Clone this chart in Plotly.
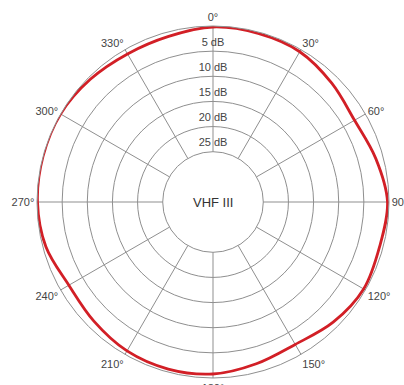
import plotly.graph_objects as go

# Measured directivity (relative level in dB) every 15 degrees
angles = [0, 15, 30, 45, 60, 75, 90, 105, 120, 135, 150, 165,
          180, 195, 210, 225, 240, 255, 270, 285, 300, 315, 330, 345]
level_db = [-0.2, -0.3, -0.5, -1.6, -2.5, -1.5, -0.3, -0.7, -0.4, -1.2, -2.3, -1.7,
            -0.8, -0.6, -0.8, -1.5, -1.9, -0.6, -0.1, 0.0, 0.0, -0.5, -1.0, -0.9]

# Grid rings (attenuation in dB) and angular tick labels
ring_db = [5, 10, 15, 20, 25]
angle_ticks = list(range(0, 360, 30))
angle_labels = [f"{a}°" for a in angle_ticks]
band_name = "VHF III"

grid = "#8f8f8f"
font_family = "Liberation Sans, Arial, sans-serif"

fig = go.Figure()

# Closed pattern curve
fig.add_trace(go.Scatterpolar(
    theta=angles + angles[:1],
    r=level_db + level_db[:1],
    mode="lines",
    line=dict(color="#d21f26", width=2.8, shape="spline", smoothing=1.0),
    hoverinfo="skip",
    showlegend=False,
))

# Ring labels along the 0° spoke, just above each ring
fig.add_trace(go.Scatterpolar(
    theta=[0] * len(ring_db),
    r=[-v + 1.6 for v in ring_db],
    mode="text",
    text=[f"{v} dB" for v in ring_db],
    textfont=dict(family=font_family, size=11, color="#444444"),
    hoverinfo="skip",
    showlegend=False,
))

fig.update_layout(
    width=404,
    height=385,
    margin=dict(l=37, r=15, t=26, b=7),
    paper_bgcolor="white",
    plot_bgcolor="white",
    showlegend=False,
    polar=dict(
        bgcolor="white",
        hole=50 / 175,
        radialaxis=dict(
            range=[-25, 0],
            tickvals=[-v for v in ring_db],
            showticklabels=False,
            ticks="",
            showline=False,
            gridcolor=grid,
            gridwidth=1,
        ),
        angularaxis=dict(
            rotation=90,
            direction="clockwise",
            tickvals=angle_ticks,
            ticktext=angle_labels,
            ticks="",
            showline=True,
            linecolor=grid,
            linewidth=1,
            gridcolor=grid,
            gridwidth=1,
            tickfont=dict(family=font_family, size=11, color="#444444"),
        ),
    ),
    annotations=[dict(
        text=band_name,
        x=0.5, y=0.5, xref="paper", yref="paper",
        showarrow=False,
        font=dict(family=font_family, size=13, color="#333333"),
    )],
)

fig.write_html("out.html")
